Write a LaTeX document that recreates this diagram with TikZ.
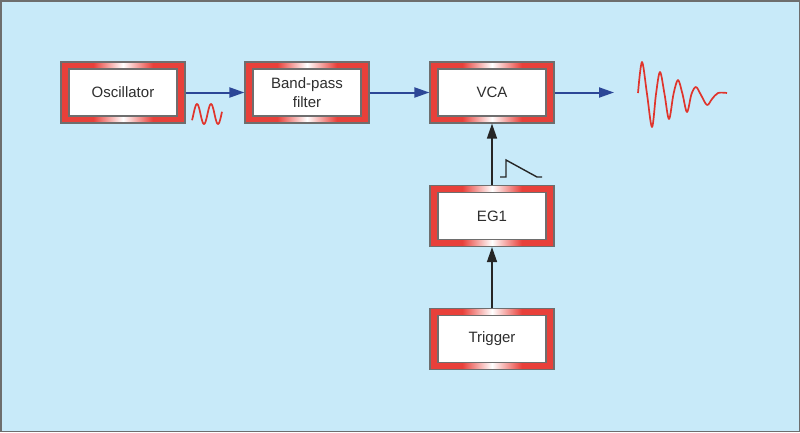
\documentclass[tikz,border=0pt]{standalone}
\usepackage{fontspec}
\setmainfont{Liberation Sans}
\usepackage{tikz}
\usetikzlibrary{calc,arrows.meta,positioning}
\definecolor{skyblue}{HTML}{C8EAF9}
\definecolor{framegray}{HTML}{6E6E6E}
\definecolor{boxred}{HTML}{E8403A}
\definecolor{sigblue}{HTML}{2C4797}
\definecolor{wavered}{HTML}{E0342C}
\definecolor{textgray}{HTML}{2E2E2E}
\pgfdeclarehorizontalshading{boxframe}{100bp}{color(0bp)=(boxred); color(38bp)=(boxred); color(50bp)=(white); color(62bp)=(boxred); color(100bp)=(boxred)}
\tikzset{
    synthbox/.style={shade, shading=boxframe, draw=framegray, line width=1.2pt,
        minimum width=124pt, minimum height=61pt, inner sep=0pt,
        align=center, text=textgray, font=\fontsize{15}{19}\selectfont,
        path picture={\draw[fill=white, draw=framegray, line width=1.2pt]
            ($(path picture bounding box.south west)+(8pt,7pt)$) rectangle
            ($(path picture bounding box.north east)+(-8pt,-7pt)$);}},
    sigarrow/.style={draw=sigblue, line width=2pt, -{Triangle[length=15pt,width=10pt]}},
    ctrlarrow/.style={draw=black!85, line width=1.6pt, -{Triangle[length=15pt,width=10pt]}},
    wave/.style={draw=wavered, line width=1.7pt, line join=round}
}
\begin{document}
\begin{tikzpicture}[x=1pt,y=-1pt]
                \useasboundingbox (0,0) rectangle (800,432);
                \filldraw[fill=skyblue, draw=framegray, line width=1.5pt] (0.75,0.75) rectangle (799.25,431.25);
                \def\rowy{92.5}
                \def\colx{492}
                \node[synthbox] (osc) at (123,\rowy) {Oscillator};
                \node[synthbox] (bpf) at (307,\rowy) {Band-pass\\filter};
                \node[synthbox] (vca) at (\colx,\rowy) {VCA};
                \node[synthbox] (eg) at (\colx,216) {EG1};
                \node[synthbox] (trig) at (\colx,339) {Trigger};
                \coordinate (out) at (614,\rowy);
                \draw[sigarrow] (osc) -- (bpf);
                \draw[sigarrow] (bpf) -- (vca);
                \draw[sigarrow] (vca) -- (out);
                \draw[ctrlarrow] (eg) -- (vca);
                \draw[ctrlarrow] (trig) -- (eg);
                \draw[wave] plot[domain=192:222, samples=60] (\x, {114-10*sin(360*(\x-193.5)/14)});
                \draw[black!85, line width=1.4pt] (500,177) -- (506,177) -- (506,160) -- (537,177) -- (542,177);
                \draw[wave] plot[smooth, tension=0.55] coordinates {(638,93) (642,62) (647,94) (652,127) (656,94) (660,72) (664.5,94) (669,119) (673.5,94) (678,80) (682.5,94) (687,112) (691.5,94) (696,87) (701,95) (707,105) (712,99) (718,93) (727,93)};
            \end{tikzpicture}
\end{document}
